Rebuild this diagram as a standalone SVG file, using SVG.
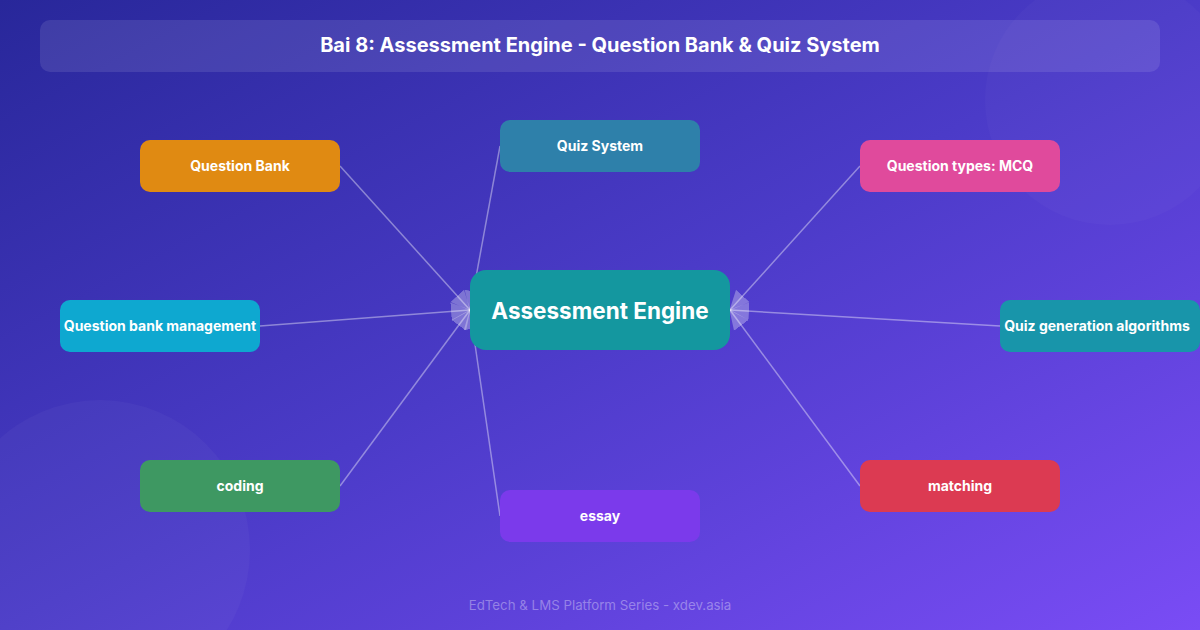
<svg xmlns="http://www.w3.org/2000/svg" width="1200" height="630" viewBox="0 0 1200 630">
<defs>
<linearGradient id="bg" x1="0" y1="0" x2="1" y2="1">
<stop offset="0" stop-color="#28279a"/>
<stop offset="0.5" stop-color="#4b3bc8"/>
<stop offset="1" stop-color="#7a4cf5"/>
</linearGradient>
<marker id="ah" viewBox="0 0 20 20" refX="19" refY="10" markerWidth="20" markerHeight="20" markerUnits="userSpaceOnUse" orient="auto">
<path d="M0,1 L20,10 L0,19 Z" fill="#ffffff" fill-opacity="0.3"/>
</marker>
<style>
.node text{font-family:Inter,"Liberation Sans",sans-serif;font-weight:700;font-size:14px;fill:#ffffff;text-anchor:middle;dominant-baseline:central}
.conn line{stroke:#ffffff;stroke-opacity:0.4;stroke-width:1.5;marker-end:url(#ah)}
</style>
</defs>
<rect width="1200" height="630" fill="url(#bg)"/>
<circle cx="1110" cy="100" r="125" fill="#ffffff" fill-opacity="0.025"/>
<circle cx="100" cy="550" r="150" fill="#ffffff" fill-opacity="0.03"/>
<g id="title">
<rect x="40" y="20" width="1120" height="52" rx="10" fill="#ffffff" fill-opacity="0.1"/>
<text x="600" y="45" font-family="Inter,'Liberation Sans',sans-serif" font-weight="700" font-size="20" fill="#ffffff" text-anchor="middle" dominant-baseline="central">Bai 8: Assessment Engine - Question Bank &amp; Quiz System</text>
</g>
<g id="connectors" class="conn">
<line x1="340" y1="166" x2="470" y2="310"/>
<line x1="500" y1="146" x2="470" y2="310"/>
<line x1="260" y1="326" x2="470" y2="310"/>
<line x1="340" y1="486" x2="470" y2="310"/>
<line x1="500" y1="516" x2="470" y2="310"/>
<line x1="860" y1="166" x2="730" y2="310"/>
<line x1="1000" y1="326" x2="730" y2="310"/>
<line x1="860" y1="486" x2="730" y2="310"/>
</g>
<g id="center" class="node">
<rect x="470" y="270" width="260" height="80" rx="16" fill="#14979f"/>
<text x="600" y="310" style="font-size:22.5px">Assessment Engine</text>
</g>
<g id="n-question-bank" class="node">
<rect x="140" y="140" width="200" height="52" rx="10" fill="#e08a12"/>
<text x="240" y="165">Question Bank</text>
</g>
<g id="n-quiz-system" class="node">
<rect x="500" y="120" width="200" height="52" rx="10" fill="#2e80aa"/>
<text x="600" y="145">Quiz System</text>
</g>
<g id="n-mcq" class="node">
<rect x="860" y="140" width="200" height="52" rx="10" fill="#e04a9c"/>
<text x="960" y="165">Question types: MCQ</text>
</g>
<g id="n-qbm" class="node">
<rect x="60" y="300" width="200" height="52" rx="10" fill="#0ea8d0"/>
<text x="160" y="325">Question bank management</text>
</g>
<g id="n-qga" class="node">
<rect x="1000" y="300" width="200" height="52" rx="10" fill="#1895aa"/>
<text x="1097" y="325">Quiz generation algorithms</text>
</g>
<g id="n-coding" class="node">
<rect x="140" y="460" width="200" height="52" rx="10" fill="#3e9862"/>
<text x="240" y="485">coding</text>
</g>
<g id="n-matching" class="node">
<rect x="860" y="460" width="200" height="52" rx="10" fill="#dc3a52"/>
<text x="960" y="485">matching</text>
</g>
<g id="n-essay" class="node">
<rect x="500" y="490" width="200" height="52" rx="10" fill="#7b3aeb"/>
<text x="600" y="515">essay</text>
</g>
<text x="600" y="605" font-family="Inter,'Liberation Sans',sans-serif" font-size="13.3" fill="#ffffff" fill-opacity="0.35" text-anchor="middle" dominant-baseline="central">EdTech &amp; LMS Platform Series - xdev.asia</text>
</svg>
